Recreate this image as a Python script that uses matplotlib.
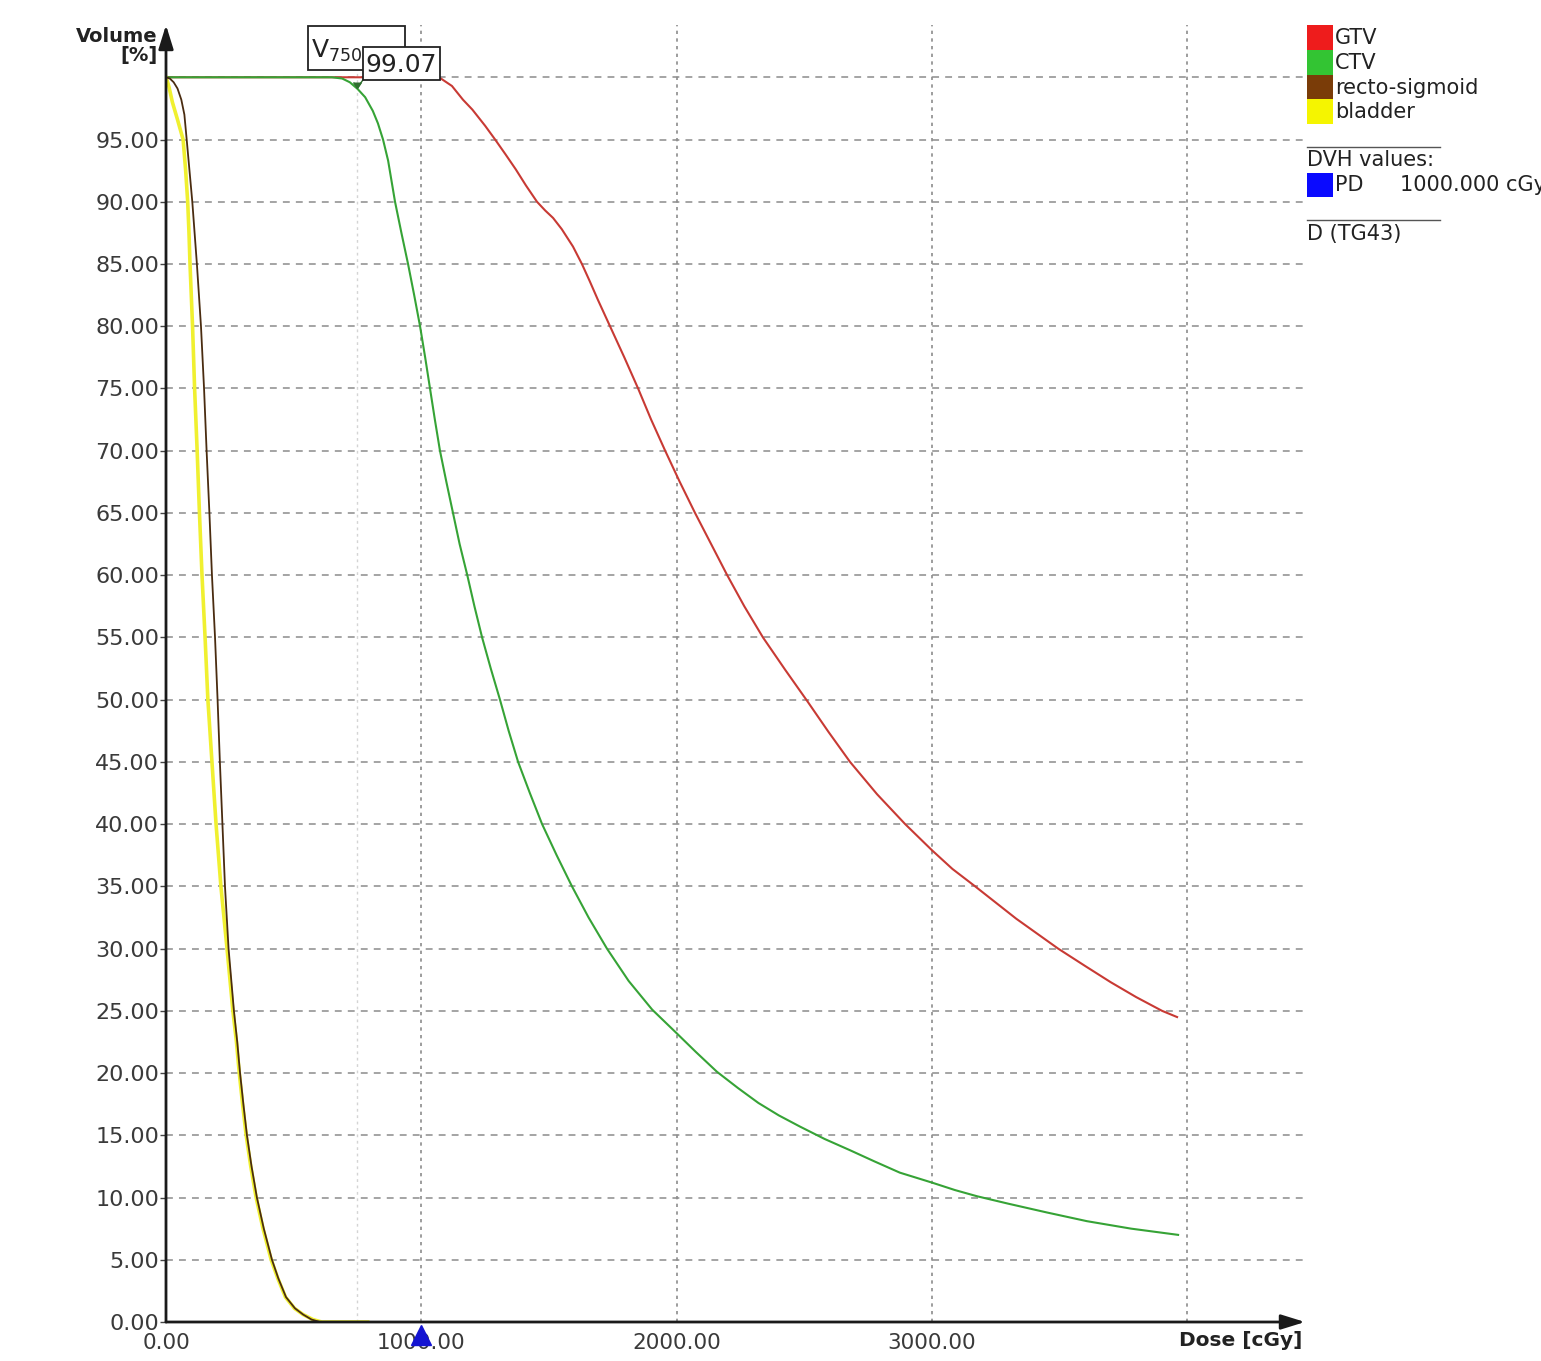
import matplotlib
matplotlib.use("Agg")
import matplotlib.pyplot as plt
import matplotlib.patches as mpatches
import matplotlib.lines as mlines

plt.rcParams['font.family'] = ['DejaVu Sans']

# ---- data (dose in cGy, volume in %) ----
gtv_dose = [0, 1050, 1073, 1120, 1163, 1200, 1250, 1289, 1330, 1370, 1410, 1453, 1485,
            1516, 1550, 1594, 1629, 1660, 1692, 1739, 1795, 1849, 1900, 1955, 2012,
            2072, 2135, 2198, 2265, 2338, 2425, 2511, 2595, 2679, 2785, 2895, 3000,
            3080, 3169, 3330, 3494, 3600, 3700, 3800, 3901, 3960]
gtv_vol = [100, 100, 99.95, 99.3, 98.2, 97.4, 96.1, 95, 93.8, 92.6, 91.3, 90, 89.3,
           88.7, 87.8, 86.4, 85, 83.6, 82.1, 80, 77.5, 75, 72.5, 70, 67.5,
           65, 62.5, 60, 57.5, 55, 52.4, 49.9, 47.4, 45, 42.4, 40, 37.9,
           36.4, 35, 32.4, 30, 28.6, 27.3, 26.1, 25, 24.5]

ctv_dose = [0, 650, 690, 720, 750, 780, 810, 830, 850, 870, 897, 922, 948, 972, 995,
            1015, 1034, 1053, 1073, 1098, 1124, 1150, 1180, 1208, 1238, 1272, 1308,
            1342, 1379, 1425, 1473, 1530, 1590, 1655, 1727, 1812, 1904, 2000, 2075,
            2158, 2240, 2320, 2400, 2483, 2580, 2679, 2775, 2874, 3000, 3090, 3177,
            3300, 3450, 3607, 3780, 3964]
ctv_vol = [100, 100, 99.9, 99.6, 99.07, 98.4, 97.3, 96.3, 95, 93.3, 90, 87.5, 85, 82.5, 80,
           77.5, 75, 72.5, 70, 67.5, 65, 62.5, 60, 57.5, 55, 52.5, 50,
           47.5, 45, 42.5, 40, 37.5, 35, 32.5, 30, 27.4, 25.1, 23.2, 21.7,
           20.1, 18.8, 17.6, 16.6, 15.7, 14.7, 13.8, 12.9, 12.0, 11.2, 10.6, 10.1,
           9.5, 8.8, 8.1, 7.5, 7.0]

rectum_dose = [0, 15, 30, 45, 60, 72, 81, 92, 103, 112, 121, 129, 137, 149, 159, 170,
               180, 192, 202, 211, 221, 231, 245, 266, 279, 290, 303, 317, 335, 356,
               383, 415, 440, 470, 505, 537, 570, 603, 790]
rectum_vol = [100, 99.9, 99.6, 99.1, 98.2, 97, 95, 92.5, 90, 87.5, 85, 82.5, 80, 75, 70, 65,
              60, 55, 50, 45, 40, 35, 30, 25, 22.5, 20, 17.5, 15, 12.5, 10,
              7.5, 5, 3.5, 2, 1.1, 0.6, 0.2, 0, 0]

bladder_dose = [0, 5, 12, 25, 45, 67, 77, 85, 90, 94, 99, 104, 112, 122, 131, 141, 153,
                164, 180, 196, 215, 239, 262, 276, 287, 300, 314, 332, 353, 380, 412,
                438, 468, 503, 537, 575, 610, 790]
bladder_vol = [100, 99.7, 99.2, 98, 96.6, 95, 92.5, 90, 87.5, 85, 82.5, 80, 75, 70, 65, 60, 55,
               50, 45, 40, 35, 30, 25, 22.5, 20, 17.5, 15, 12.5, 10, 7.5, 5,
               3.5, 2, 1.1, 0.6, 0.2, 0, 0]

structures = ['GTV', 'CTV', 'recto-sigmoid', 'bladder']
legend_colors = ['#ee1c1c', '#33c433', '#7a3c08', '#f5f500']

y_ticks = list(range(0, 100, 5))
x_ticks = [0, 1000, 2000, 3000]
y_grid = list(range(5, 101, 5))
x_grid = [1000, 2000, 3000, 4000]

PD_DOSE = 1000.0
V_DOSE = 750
V_VALUE = 99.07

X_MAX = 4461
Y_MAX = 104.2

W, H = 1541, 1361


def fxy(x, y):
    """pixel position -> figure fraction"""
    return x / W, 1 - y / H


fig = plt.figure(figsize=(W / 100, H / 100), dpi=100)
ax = fig.add_axes([166 / W, 1 - 1322 / H, (1305 - 166) / W, (1322 - 25) / H])
ax.set_xlim(0, X_MAX)
ax.set_ylim(0, Y_MAX)
for s in ax.spines.values():
    s.set_visible(False)

# grid
for v in y_grid:
    ax.axhline(v, color='#8c8c8c', lw=1.1, ls=(0, (4.5, 4)), zorder=0.5)
for d in x_grid:
    ax.axvline(d, color='#8c8c8c', lw=1.2, ls=(0, (2, 2.6)), zorder=0.5)
ax.axvline(V_DOSE, color='#d4d4d4', lw=1.0, ls=(0, (2, 2.6)), zorder=0.4)

# curves
ax.plot(gtv_dose, gtv_vol, color='#c83a34', lw=1.5, zorder=3)
ax.plot(ctv_dose, ctv_vol, color='#36a336', lw=1.5, zorder=3)
ax.plot(bladder_dose, bladder_vol, color='#f0f030', lw=2.6, zorder=3)
ax.plot(rectum_dose, rectum_vol, color='#4a2c10', lw=1.3, zorder=4)

# axes with arrows
arrow = dict(arrowstyle='-|>,head_length=1.45,head_width=0.45', color='#1a1a1a',
             lw=2, shrinkA=0, shrinkB=0)
ax.annotate('', xy=(X_MAX, 0), xytext=(0, 0), arrowprops=arrow, annotation_clip=False, zorder=5)
ax.annotate('', xy=(0, Y_MAX), xytext=(0, 0), arrowprops=arrow, annotation_clip=False, zorder=5)

ax.set_yticks(y_ticks)
ax.set_yticklabels([f'{v:.2f}' for v in y_ticks])
ax.set_xticks(x_ticks)
ax.set_xticklabels([f'{v:.2f}' for v in x_ticks])
ax.tick_params(axis='y', length=4, width=1, color='#444444', labelsize=16,
               labelcolor='#3a3a3a', pad=1)
ax.tick_params(axis='x', length=0, labelsize=15.5, labelcolor='#3a3a3a', pad=8)

# PD marker on dose axis
ax.plot([PD_DOSE], [-1.05], marker='^', ms=15, color='#1414d2', clip_on=False, zorder=6)

# V750 annotation
ax.add_patch(mpatches.Rectangle((556, 100.55), 380, 3.6, facecolor='white',
                                edgecolor='#222222', lw=1.3, clip_on=False, zorder=6))
ax.text(568, 102.1, r'V$_{750}$', fontsize=18, color='#222222', ha='left', va='center',
        zorder=7, clip_on=False)
ax.add_patch(mpatches.Rectangle((770, 99.75), 303, 2.65, facecolor='white',
                                edgecolor='#222222', lw=1.3, clip_on=False, zorder=8))
ax.text(921, 101.0, f'{V_VALUE:.2f}', fontsize=18, color='#222222', ha='center', va='center',
        zorder=9, clip_on=False)
ax.plot([V_DOSE], [V_VALUE + 0.1], marker=7, ms=6, color='#2f6f2f', zorder=7, clip_on=False)
ax.plot([V_DOSE, 770], [V_VALUE + 0.1, 99.75], color='#2f6f2f', lw=1, zorder=7, clip_on=False)

# axis titles
fig.text(*fxy(158, 37), 'Volume', fontsize=14, fontweight='bold', color='#222222',
         ha='right', va='center')
fig.text(*fxy(158, 55), '[%]', fontsize=14, fontweight='bold', color='#222222',
         ha='right', va='center')
fig.text(*fxy(1302, 1341), 'Dose [cGy]', fontsize=14.5, fontweight='bold', color='#222222',
         ha='right', va='center')

# legend panel
rows_y = [25, 50, 74.5, 99]
for name, col, y0 in zip(structures, legend_colors, rows_y):
    fig.patches.append(mpatches.Rectangle(fxy(1307, y0 + 25), 26 / W, 25 / H, facecolor=col,
                                          edgecolor='none', transform=fig.transFigure))
    fig.text(*fxy(1335, y0 + 13), name, fontsize=15, color='#222222', ha='left', va='center')

fig.lines.append(mlines.Line2D([1307 / W, 1440 / W], [1 - 147 / H] * 2, color='#555555', lw=1,
                               transform=fig.transFigure))
fig.text(*fxy(1307, 160), 'DVH values:', fontsize=15, color='#222222', ha='left', va='center')
fig.patches.append(mpatches.Rectangle(fxy(1307, 197), 26 / W, 24 / H, facecolor='#0a0aff',
                                      edgecolor='none', transform=fig.transFigure))
fig.text(*fxy(1335, 185), 'PD', fontsize=15, color='#222222', ha='left', va='center')
fig.text(*fxy(1400, 185), f'{PD_DOSE:.3f} cGy', fontsize=15, color='#222222', ha='left', va='center')
fig.lines.append(mlines.Line2D([1307 / W, 1440 / W], [1 - 220 / H] * 2, color='#555555', lw=1,
                               transform=fig.transFigure))
fig.text(*fxy(1307, 234), 'D (TG43)', fontsize=15, color='#222222', ha='left', va='center')

fig.savefig('out.png', dpi=100, facecolor='white')
